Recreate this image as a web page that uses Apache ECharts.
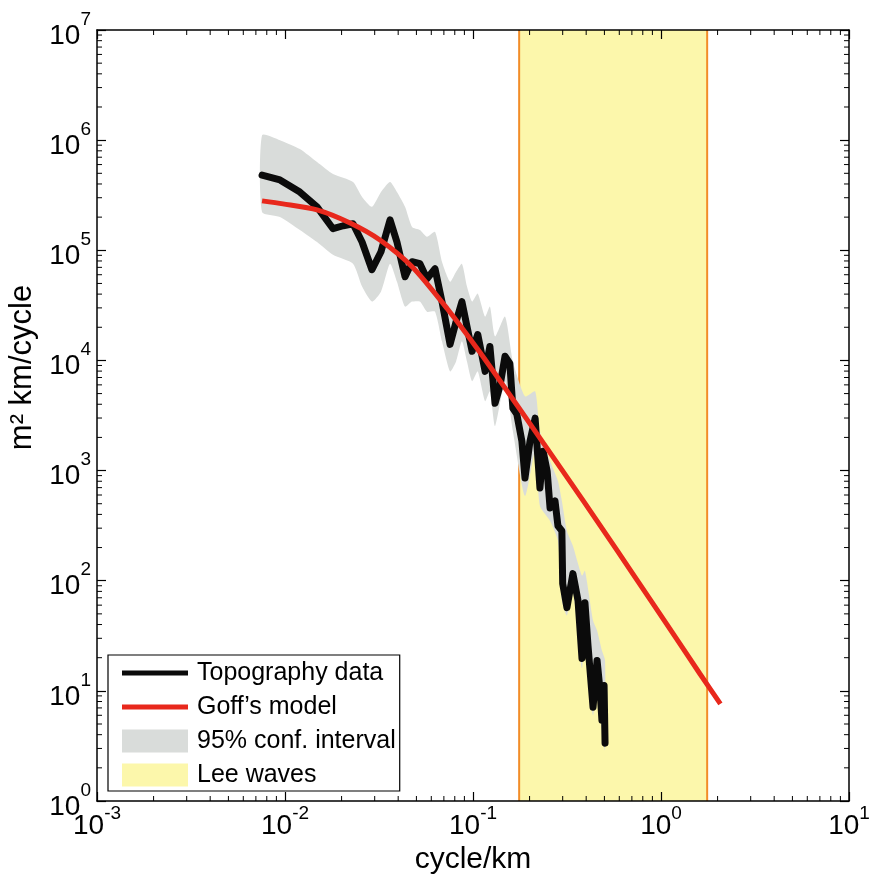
<!DOCTYPE html>
<html><head><meta charset="utf-8">
<script src="https://cdn.jsdelivr.net/npm/echarts@6/dist/echarts.min.js"></script>
<style>html,body{margin:0;padding:0;background:#fff}#c{width:872px;height:881px}</style>
</head><body><div id="c"></div>
<script>
// Topography spectrum (cycle/km, m^2 km/cycle)
const topoFreq = [0.00755,0.0094,0.012,0.0148,0.018,0.0204,0.023,0.0257,0.029,0.0324,0.0362,0.0394,0.0435,0.0474,0.0522,0.0569,0.0628,0.0684,0.0755,0.0813,0.0873,0.0929,0.0989,0.106,0.116,0.123,0.131,0.139,0.148,0.157,0.163,0.171,0.182,0.189,0.201,0.214,0.227,0.236,0.248,0.257,0.273,0.283,0.297,0.300,0.316,0.340,0.362,0.380,0.394,0.409,0.435,0.457,0.474,0.485,0.498,0.504];
const topoPower = [4.82e5,4.35e5,3.38e5,2.48e5,1.57e5,1.67e5,1.74e5,1.19e5,6.66e4,9.69e4,1.89e5,1.19e5,5.75e4,7.87e4,7.55e4,5.52e4,6.80e4,3.42e4,1.40e4,2.25e4,3.42e4,2.03e4,1.21e4,1.72e4,7.95e3,1.34e4,4.08e3,5.82e3,1.09e4,9.39e3,3.68e3,3.25e3,1.85e3,855,1.85e3,2.99e3,695,1.50e3,989,458,530,315,283,94,57,116,66,19.7,63,25.8,7.1,18.9,10.1,5.4,11.2,3.35];
// Goff's model
const goffFreq = [0.00755,0.00975,0.0148,0.0222,0.032,0.048,0.0728,0.109,0.163,0.227,0.316,0.474,0.710,1.077,1.61,2.07];
const goffPower = [2.81e5,2.64e5,2.33e5,1.77e5,1.24e5,6.95e4,2.96e4,1.18e4,4.44e3,1.97e3,873,318,115,40.0,14.3,7.63];
// 95% confidence interval envelope
const ciFreq = [0.00755,0.0094,0.012,0.0148,0.018,0.023,0.0257,0.029,0.0324,0.0362,0.0394,0.0435,0.0474,0.0522,0.0569,0.0628,0.0684,0.0755,0.0813,0.0873,0.0929,0.0989,0.106,0.116,0.123,0.131,0.148,0.163,0.189,0.214,0.227,0.257,0.283,0.297,0.316,0.340,0.380,0.394,0.435,0.457,0.485,0.504];
const ciUpper = [1.11e6,1.0e6,8.29e5,6.32e5,4.92e5,4.17e5,3.05e5,2.48e5,3.38e5,4.17e5,3.38e5,2.48e5,1.63e5,1.53e5,1.33e5,1.47e5,7.87e4,5.19e4,6.39e4,7.55e4,4.68e4,3.42e4,4.04e4,2.50e4,3.08e4,1.65e4,2.50e4,9.79e3,4.72e3,5.24e3,2.28e3,1.22e3,804,530,283,207,111,123,43.5,35.3,23.2,18.9];
const ciLower = [2.23e5,2.01e5,1.53e5,1.19e5,9.1e4,7.55e4,4.68e4,3.42e4,4.21e4,7.55e4,5.19e4,3.08e4,3.42e4,3.42e4,2.77e4,2.77e4,1.49e4,7.95e3,9.79e3,1.49e4,9.79e3,6.46e3,7.95e3,4.26e3,5.24e3,2.53e3,6.46e3,2.28e3,588,1.50e3,477,349,230,66,48.2,81,16,43.5,6.0,13.8,4.4,2.9];
// Lee waves band
const leeWaves = [0.176, 1.76];
const xRange = [1e-3, 1e1];
const yRange = [1e0, 1e7];

const FONT = 'Liberation Sans, Arial, Helvetica, sans-serif';
const chart = echarts.init(document.getElementById('c'), null, {renderer:'canvas'});
const supFmt = v => '{b|10}{s|' + Math.round(Math.log10(v)) + '}';
const richY = {
  b:{fontSize:28, fontFamily:FONT, color:'#000', lineHeight:40, verticalAlign:'bottom'},
  s:{fontSize:19, fontFamily:FONT, color:'#000', lineHeight:18, verticalAlign:'top'}
};
const richX = {
  b:{fontSize:28, fontFamily:FONT, color:'#000', lineHeight:36, verticalAlign:'bottom'},
  s:{fontSize:19, fontFamily:FONT, color:'#000', lineHeight:18, verticalAlign:'top'}
};
const axisCommon = {
  type:'log', logBase:10, interval:1, z:10,
  axisLine:{show:true, onZero:false, lineStyle:{color:'#000', width:1.5}},
  axisTick:{show:true, inside:true, length:9, lineStyle:{color:'#000', width:1.2}},
  splitLine:{show:false}, minorSplitLine:{show:false}
};
const topoData = topoFreq.map((f,i)=>[f, topoPower[i]]);
const goffData = goffFreq.map((f,i)=>[f, goffPower[i]]);

const option = {
  animation:false,
  backgroundColor:'#fff',
  grid:{left:97, right:23, top:30, bottom:80, containLabel:false, outerBoundsMode:'none'},
  xAxis:[
    Object.assign({}, axisCommon, {min:xRange[0], max:xRange[1], position:'bottom',
      name:'cycle/km', nameLocation:'middle', nameGap:43,
      nameTextStyle:{fontSize:30, fontFamily:FONT, color:'#000'},
      axisLabel:{show:true, margin:3, formatter:supFmt, rich:richX, showMinLabel:true, showMaxLabel:true}}),
    Object.assign({}, axisCommon, {min:xRange[0], max:xRange[1], position:'top', axisLabel:{show:false}})
  ],
  yAxis:[
    Object.assign({}, axisCommon, {min:yRange[0], max:yRange[1], position:'left',
      name:'m² km/cycle', nameLocation:'middle', nameGap:34, nameRotate:90,
      nameTextStyle:{fontSize:31, fontFamily:FONT, color:'#000', padding:[0,0,0,96]},
      axisLabel:{show:true, margin:6, formatter:supFmt, rich:richY, showMinLabel:true, showMaxLabel:true}}),
    Object.assign({}, axisCommon, {min:yRange[0], max:yRange[1], position:'right', axisLabel:{show:false}})
  ],
  legend:{
    show:true, orient:'vertical', left:108, top:655, selectedMode:false,
    padding:[5,4,3,14], itemGap:8, itemWidth:66, itemHeight:23,
    borderColor:'#000', borderWidth:1.2, backgroundColor:'#fff',
    textStyle:{fontSize:25, fontFamily:FONT, color:'#000', lineHeight:26, padding:[0,0,0,4]},
    data:[
      {name:'Topography data', icon:'path://M0,0L66,0L66,5L0,5Z'},
      {name:'Goff\u2019s model', icon:'path://M0,0L66,0L66,5L0,5Z'},
      {name:'95% conf. interval', icon:'rect'},
      {name:'Lee waves', icon:'rect'}
    ]
  },
  series:[
    {
      name:'Lee waves', type:'custom', z:1, silent:true,
      itemStyle:{color:'#fcf7ab'},
      data:[[leeWaves[0], yRange[1]]],
      renderItem:(params, api)=>{
        const a = api.coord([leeWaves[0], yRange[1]]);
        const b = api.coord([leeWaves[1], yRange[0]]);
        return {type:'group', children:[
          {type:'rect', shape:{x:a[0], y:a[1], width:b[0]-a[0], height:b[1]-a[1]}, style:{fill:'#fcf7ab'}},
          {type:'line', shape:{x1:a[0], y1:a[1], x2:a[0], y2:b[1]}, style:{stroke:'#f28c28', lineWidth:2}},
          {type:'line', shape:{x1:b[0], y1:a[1], x2:b[0], y2:b[1]}, style:{stroke:'#f28c28', lineWidth:2}}
        ]};
      }
    },
    {
      name:'95% conf. interval', type:'custom', z:2, silent:true,
      itemStyle:{color:'#d9dcda'},
      data:[[ciFreq[0], ciUpper[0]]],
      renderItem:(params, api)=>{
        const pts = [];
        for (let i=0;i<ciFreq.length;i++) pts.push(api.coord([ciFreq[i], ciUpper[i]]));
        for (let i=ciFreq.length-1;i>=0;i--) pts.push(api.coord([ciFreq[i], ciLower[i]]));
        return {type:'polygon', shape:{points:pts, smooth:0.2}, style:{fill:'#d9dcda'}};
      }
    },
    {
      name:'Topography data', type:'line', z:3, data:topoData, showSymbol:false, symbol:'none',
      lineStyle:{color:'#0b0b0b', width:7, join:'round', cap:'round'}, itemStyle:{color:'#0b0b0b'}
    },
    {
      name:'Goff\u2019s model', type:'line', z:4, data:goffData, showSymbol:false, symbol:'none', smooth:0.25,
      lineStyle:{color:'#e8281c', width:5}, itemStyle:{color:'#e8281c'}
    },
    {
      name:'minorTicks', type:'custom', z:11, silent:true,
      data:[[xRange[0], yRange[0]]],
      renderItem:(params, api)=>{
        const ch = [];
        const lo = api.coord([xRange[0], yRange[0]]);
        const hi = api.coord([xRange[1], yRange[1]]);
        const st = {stroke:'#000', lineWidth:1};
        for (let k=Math.log10(xRange[0]); k<Math.log10(xRange[1]); k++) {
          for (let m=2;m<=9;m++) {
            const px = api.coord([m*Math.pow(10,k), yRange[0]])[0];
            ch.push({type:'line', shape:{x1:px, y1:lo[1], x2:px, y2:lo[1]-5}, style:st});
            ch.push({type:'line', shape:{x1:px, y1:hi[1], x2:px, y2:hi[1]+5}, style:st});
          }
        }
        for (let k=Math.log10(yRange[0]); k<Math.log10(yRange[1]); k++) {
          for (let m=2;m<=9;m++) {
            const py = api.coord([xRange[0], m*Math.pow(10,k)])[1];
            ch.push({type:'line', shape:{x1:lo[0], y1:py, x2:lo[0]+5, y2:py}, style:st});
            ch.push({type:'line', shape:{x1:hi[0], y1:py, x2:hi[0]-5, y2:py}, style:st});
          }
        }
        return {type:'group', children:ch};
      }
    }
  ]
};
chart.setOption(option);
</script>
</body></html>
